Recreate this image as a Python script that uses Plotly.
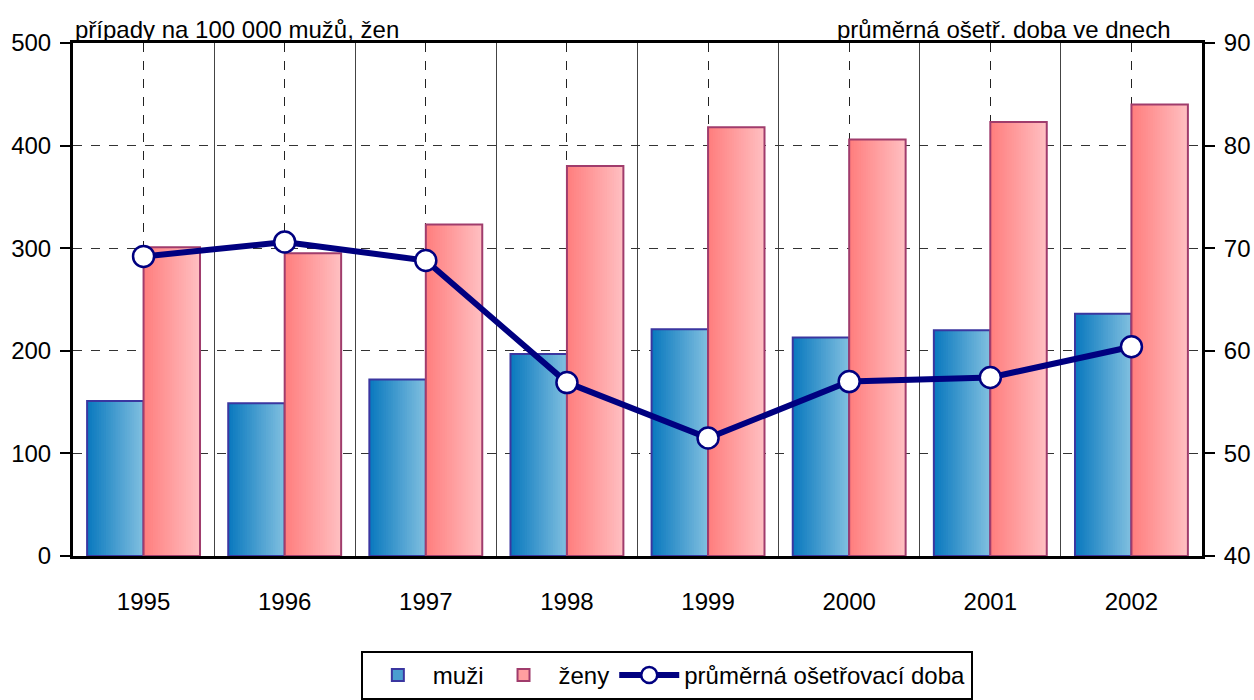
import plotly.graph_objects as go

years = ["1995", "1996", "1997", "1998", "1999", "2000", "2001", "2002"]
muzi = [151, 149, 172, 197, 221, 213, 220, 236]
zeny = [301, 295, 323, 380, 418, 406, 423, 440]
doba = [69.2, 70.6, 68.8, 56.9, 51.5, 57.0, 57.4, 60.4]

left_ticks = [0, 100, 200, 300, 400, 500]
right_ticks = [40, 50, 60, 70, 80, 90]

FONT = "Liberation Sans, Arial, sans-serif"
FS = 24

xs = list(range(len(years)))
fig = go.Figure()


def lerp(c1, c2, t):
    return "rgb(%d,%d,%d)" % tuple(round(a + (b - a) * t) for a, b in zip(c1, c2))


def gradient_bars(vals, offset, width, c1, c2, line_color, n=24):
    step = width / n
    for i in range(n):
        fig.add_trace(go.Bar(
            x=xs, y=vals, width=width - i * step, offset=offset + i * step,
            marker=dict(color=lerp(c1, c2, (i + 0.5) / n), line=dict(width=0)),
            showlegend=False, hoverinfo="skip"))
    fig.add_trace(go.Bar(
        x=xs, y=vals, width=width, offset=offset,
        marker=dict(color="rgba(0,0,0,0)", line=dict(color=line_color, width=2)),
        showlegend=False, hoverinfo="skip"))


gradient_bars(muzi, -0.4, 0.4, (8, 120, 190), (130, 192, 224), "#3a36a0")
gradient_bars(zeny, 0.0, 0.4, (255, 125, 125), (255, 192, 194), "#a03c6c")

# legend entries
fig.add_trace(go.Bar(x=[None], y=[None], name="muži",
                     marker=dict(color="#4a9ed0", line=dict(color="#3a36a0", width=2))))
fig.add_trace(go.Bar(x=[None], y=[None], name="ženy",
                     marker=dict(color="#ff9fa0", line=dict(color="#a03c6c", width=2))))

fig.add_trace(go.Scatter(
    x=xs, y=doba, yaxis="y2", mode="lines+markers", name="průměrná ošetřovací doba",
    line=dict(color="#000080", width=6),
    marker=dict(symbol="circle", size=21, color="white", line=dict(color="#000080", width=2.5))))

fig.update_layout(
    width=1254, height=700,
    barmode="overlay",
    plot_bgcolor="white", paper_bgcolor="white",
    margin=dict(l=73, r=52, t=43, b=144, autoexpand=False),
    font=dict(family=FONT, size=FS, color="black"),
    xaxis=dict(
        range=[-0.5, len(years) - 0.5], tickmode="array", tickvals=xs, ticktext=years,
        showline=True, linecolor="black", linewidth=3, mirror=True,
        showgrid=True, gridcolor="#222", gridwidth=1, griddash="dash",
        ticks="", ticklabelstandoff=22, zeroline=False, automargin=False,
        minor=dict(tickmode="array", tickvals=[i + 0.5 for i in xs[:-1]],
                   showgrid=True, gridcolor="#444", gridwidth=1, griddash="solid"),
    ),
    yaxis=dict(
        range=[0, 500], tickvals=left_ticks,
        showline=True, linecolor="black", linewidth=3,
        showgrid=True, gridcolor="#333", gridwidth=1, griddash="dash",
        ticks="outside", ticklen=10, tickwidth=2, tickcolor="black", zeroline=False,
        automargin=False, ticklabelstandoff=4,
    ),
    yaxis2=dict(
        range=[40, 90], tickvals=right_ticks, overlaying="y", side="right",
        showline=True, linecolor="black", linewidth=3, showgrid=False,
        ticks="outside", ticklen=10, tickwidth=2, tickcolor="black", zeroline=False,
        automargin=False, ticklabelstandoff=4,
    ),
    legend=dict(
        orientation="h", x=0.526, xanchor="center", y=-0.185, yanchor="top",
        bordercolor="black", borderwidth=2, font=dict(size=FS),
        traceorder="normal", itemwidth=60,
    ),
    annotations=[
        dict(text="případy na 100 000 mužů, žen", xref="paper", yref="paper",
             x=0, y=1, xanchor="left", yanchor="bottom", showarrow=False, yshift=-2),
        dict(text="průměrná ošetř. doba ve dnech", xref="paper", yref="paper",
             x=0.974, y=1, xanchor="right", yanchor="bottom", showarrow=False, yshift=-2),
    ],
)

fig.write_html("out.html", config={"displayModeBar": False},
               post_script="document.body.style.margin='0';")
